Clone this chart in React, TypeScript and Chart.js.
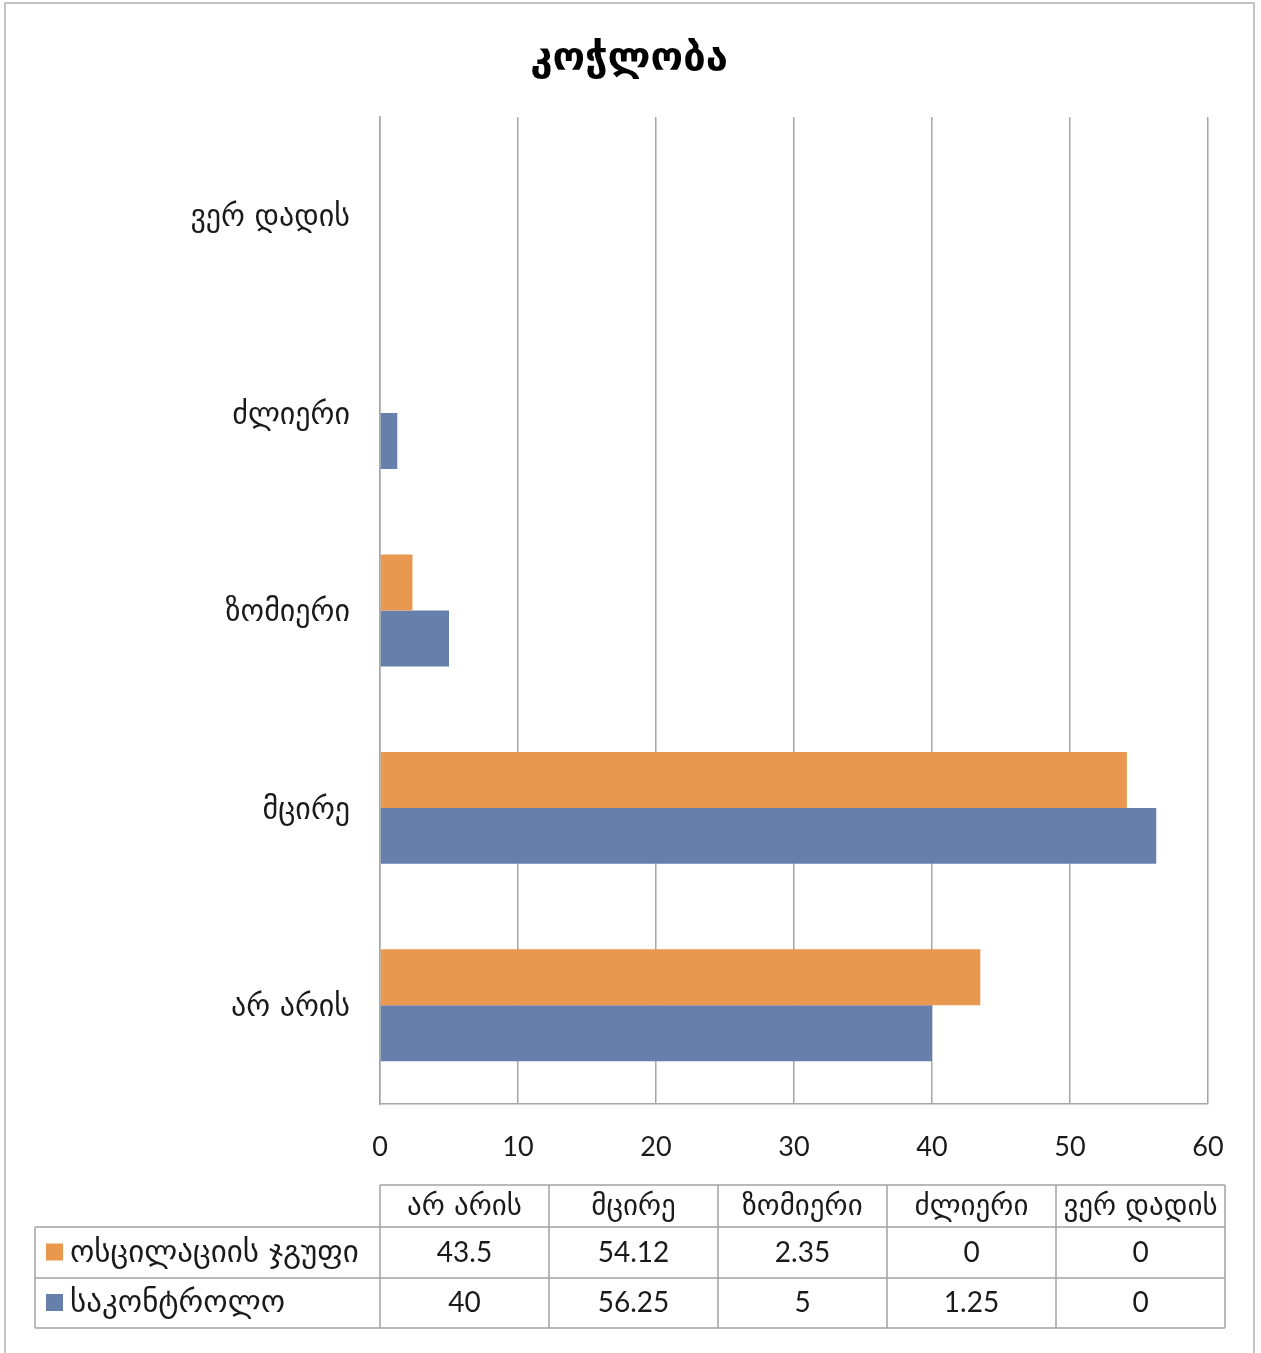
import React, { useEffect, useRef } from "react";
import { Chart, registerables } from "chart.js";

Chart.register(...registerables);

const title = "კოჭლობა";
const categories = ["არ არის", "მცირე", "ზომიერი", "ძლიერი", "ვერ დადის"];
const seriesNames = ["ოსცილაციის ჯგუფი", "საკონტროლო"];
const oscillationValues = [43.5, 54.12, 2.35, 0, 0];
const controlValues = [40, 56.25, 5, 1.25, 0];
const tableLabels = [
  ["43.5", "54.12", "2.35", "0", "0"],
  ["40", "56.25", "5", "1.25", "0"],
];
const colors = ["#E9984F", "#677FAB"];

const NUM_FONT = "Lato, 'DejaVu Sans', sans-serif";
const GEO_FONT = "'DejaVu Sans', sans-serif";

const overlay = {
  id: "overlay",
  afterDraw(chart: any) {
    const ctx = chart.ctx as CanvasRenderingContext2D;
    const left = chart.chartArea.left;
    ctx.save();
    // outer border
    ctx.strokeStyle = "#c4c4c4";
    ctx.lineWidth = 2;
    ctx.strokeRect(5, 3, 1249, 1370);
    // title
    ctx.fillStyle = "#000";
    ctx.font = "bold 40px " + GEO_FONT;
    ctx.textAlign = "center";
    ctx.textBaseline = "middle";
    ctx.fillText(title, 629, 60);

    // data table
    const colW = 169;
    const tLeft = 35;
    const yTop = 1185;
    const rows = [1227, 1278, 1328];
    const right = left + colW * 5;
    ctx.strokeStyle = "#a3a3a3";
    ctx.lineWidth = 1.5;
    ctx.beginPath();
    ctx.moveTo(left, yTop);
    ctx.lineTo(right, yTop);
    rows.forEach((y) => {
      ctx.moveTo(tLeft, y);
      ctx.lineTo(right, y);
    });
    for (let i = 0; i <= 5; i++) {
      const x = left + colW * i;
      ctx.moveTo(x, yTop);
      ctx.lineTo(x, rows[2]);
    }
    ctx.moveTo(tLeft, rows[0]);
    ctx.lineTo(tLeft, rows[2]);
    ctx.stroke();

    ctx.fillStyle = "#1a1a1a";
    ctx.textAlign = "center";
    ctx.textBaseline = "middle";
    ctx.font = "29px " + GEO_FONT;
    categories.forEach((c, i) => {
      ctx.fillText(c, left + colW * i + colW / 2, (yTop + rows[0]) / 2 + 1, colW - 4);
    });
    ctx.font = "28px " + NUM_FONT;
    tableLabels.forEach((row, r) => {
      const yc = (rows[r] + rows[r + 1]) / 2;
      row.forEach((v, i) => {
        ctx.fillText(v, left + colW * i + colW / 2, yc);
      });
    });
    seriesNames.forEach((n, r) => {
      const yc = (rows[r] + rows[r + 1]) / 2;
      ctx.fillStyle = colors[r];
      ctx.fillRect(46, yc - 9, 17, 17);
      ctx.fillStyle = "#1a1a1a";
      ctx.textAlign = "left";
      ctx.font = "31px " + GEO_FONT;
      ctx.fillText(n, 70, yc + 1, 305);
    });
    ctx.restore();
  },
};

export default function App() {
  const ref = useRef<HTMLCanvasElement>(null);
  useEffect(() => {
    if (!ref.current) return;
    const chart = new Chart(ref.current, {
      type: "bar",
      data: {
        labels: categories,
        datasets: [
          {
            label: seriesNames[0],
            data: oscillationValues,
            backgroundColor: colors[0],
            barPercentage: 1,
            categoryPercentage: 0.567,
          },
          {
            label: seriesNames[1],
            data: controlValues,
            backgroundColor: colors[1],
            barPercentage: 1,
            categoryPercentage: 0.567,
          },
        ],
      },
      options: {
        indexAxis: "y",
        animation: false,
        responsive: false,
        layout: { padding: { top: 117, right: 53, left: 0, bottom: 0 } },
        plugins: {
          legend: { display: false },
          title: { display: false },
          tooltip: { enabled: false },
        },
        scales: {
          x: {
            min: 0,
            max: 60,
            ticks: {
              stepSize: 10,
              padding: 27,
              color: "#1a1a1a",
              font: { size: 27, family: NUM_FONT },
            },
            grid: { color: "#a6a6a6", lineWidth: 1.5, drawTicks: false },
            border: { display: true, color: "#a6a6a6", width: 1.5 },
            afterFit: (s: any) => {
              s.height = 249;
            },
          },
          y: {
            reverse: true,
            ticks: {
              padding: 30,
              labelOffset: 3,
              color: "#1a1a1a",
              font: { size: 30, family: GEO_FONT },
            },
            grid: { display: false, drawTicks: false },
            border: { display: true, color: "#a6a6a6", width: 1.5 },
            afterFit: (s: any) => {
              s.width = 380;
            },
          },
        },
      },
      plugins: [overlay],
    });
    return () => chart.destroy();
  }, []);
  return (
    <div style={{ position: "absolute", left: 0, top: 0, width: 1261, height: 1353, background: "#fff" }}>
      <canvas ref={ref} width={1261} height={1353} style={{ width: 1261, height: 1353, display: "block" }} />
    </div>
  );
}
